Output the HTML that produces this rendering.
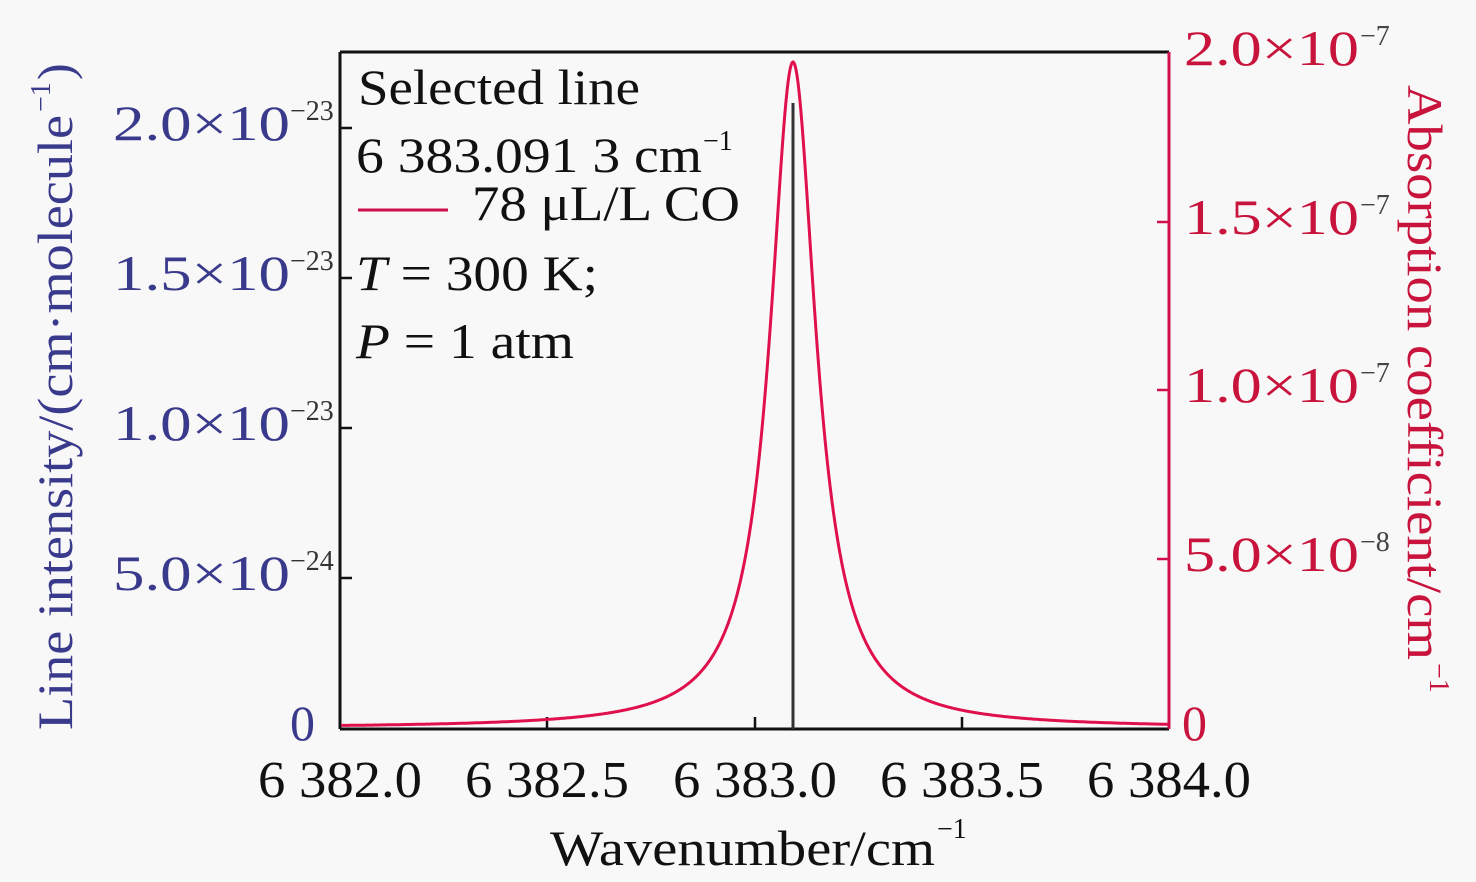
<!DOCTYPE html>
<html><head><meta charset="utf-8"><style>
html,body{margin:0;padding:0;background:#f8f8f8;}
svg{display:block;font-family:"Liberation Serif","Times New Roman",Times,serif;}
</style></head><body>
<svg id="s" width="1476" height="882" viewBox="0 0 1476 882">
<rect width="1476" height="882" fill="#f8f8f8"/>
<line x1="340" y1="52" x2="1169" y2="52" stroke="#111" stroke-width="3"/>
<line x1="340" y1="52" x2="340" y2="729" stroke="#111" stroke-width="3"/>
<line x1="340" y1="729" x2="1169" y2="729" stroke="#111" stroke-width="3"/>
<line x1="1169" y1="52" x2="1169" y2="729" stroke="#d0104c" stroke-width="3"/>
<g stroke="#111" stroke-width="2.5">
<line x1="547" y1="729" x2="547" y2="717"/><line x1="755" y1="729" x2="755" y2="717"/><line x1="962" y1="729" x2="962" y2="717"/>
<line x1="340" y1="128" x2="352" y2="128"/><line x1="340" y1="278" x2="352" y2="278"/><line x1="340" y1="428" x2="352" y2="428"/><line x1="340" y1="578" x2="352" y2="578"/>
</g>
<g stroke="#d0104c" stroke-width="2.5">
<line x1="1169" y1="222" x2="1157" y2="222"/><line x1="1169" y1="390" x2="1157" y2="390"/><line x1="1169" y1="559" x2="1157" y2="559"/>
</g>
<line x1="793" y1="103" x2="793" y2="729" stroke="#333" stroke-width="3"/>
<path id="curve" fill="none" stroke="#e0104c" stroke-width="3"/>
<g font-size="52" fill="#111" text-anchor="middle">
<text x="340" y="797" textLength="164" lengthAdjust="spacingAndGlyphs">6 382.0</text><text x="547" y="797" textLength="164" lengthAdjust="spacingAndGlyphs">6 382.5</text><text x="755" y="797" textLength="164" lengthAdjust="spacingAndGlyphs">6 383.0</text><text x="962" y="797" textLength="164" lengthAdjust="spacingAndGlyphs">6 383.5</text><text x="1169" y="797" textLength="164" lengthAdjust="spacingAndGlyphs">6 384.0</text>
</g>
<text x="550" y="865" font-size="50" fill="#111" textLength="385" lengthAdjust="spacingAndGlyphs">Wavenumber/cm</text><text x="937" y="838" font-size="28" fill="#111">−1</text>
<g font-size="50" fill="#3a3a8c">
<text x="113" y="140" textLength="177" lengthAdjust="spacingAndGlyphs">2.0×10</text><text x="290" y="120" font-size="28" fill="#333">−23</text>
<text x="113" y="290" textLength="177" lengthAdjust="spacingAndGlyphs">1.5×10</text><text x="290" y="270" font-size="28" fill="#333">−23</text>
<text x="113" y="440" textLength="177" lengthAdjust="spacingAndGlyphs">1.0×10</text><text x="290" y="420" font-size="28" fill="#333">−23</text>
<text x="113" y="590" textLength="177" lengthAdjust="spacingAndGlyphs">5.0×10</text><text x="290" y="570" font-size="28" fill="#333">−24</text>
<text x="290" y="740">0</text>
</g>
<g font-size="50" fill="#c8143c">
<text x="1184" y="65" textLength="175" lengthAdjust="spacingAndGlyphs">2.0×10</text><text x="1360" y="45" font-size="28" fill="#444">−7</text>
<text x="1184" y="234" textLength="175" lengthAdjust="spacingAndGlyphs">1.5×10</text><text x="1360" y="214" font-size="28" fill="#444">−7</text>
<text x="1184" y="402" textLength="175" lengthAdjust="spacingAndGlyphs">1.0×10</text><text x="1360" y="382" font-size="28" fill="#444">−7</text>
<text x="1184" y="571" textLength="175" lengthAdjust="spacingAndGlyphs">5.0×10</text><text x="1360" y="551" font-size="28" fill="#444">−8</text>
<text x="1182" y="740">0</text>
</g>
<g transform="translate(72,730) rotate(-90)"><text x="0" y="0" font-size="50" fill="#3a3a8c" textLength="615" lengthAdjust="spacingAndGlyphs">Line intensity/(cm·molecule</text><text x="618" y="-22" font-size="28" fill="#3a3a8c">−1</text><text x="650" y="0" font-size="50" fill="#3a3a8c">)</text></g>
<g transform="translate(1408,85) rotate(90)"><text x="0" y="0" font-size="50" fill="#c8143c" textLength="575" lengthAdjust="spacingAndGlyphs">Absorption coefficient/cm</text><text x="578" y="-22" font-size="28" fill="#c8143c">−1</text></g>
<g font-size="50" fill="#111">
<text x="358" y="104" textLength="282" lengthAdjust="spacingAndGlyphs">Selected line</text>
<text x="356" y="172" textLength="346" lengthAdjust="spacingAndGlyphs">6 383.091 3 cm</text><text x="703" y="150" font-size="28">−1</text>
<line x1="358" y1="210" x2="448" y2="210" stroke="#d0104c" stroke-width="3"/>
<text x="472" y="220" textLength="268" lengthAdjust="spacingAndGlyphs">78 μL/L CO</text>
<text x="356" y="290" textLength="242" lengthAdjust="spacingAndGlyphs"><tspan font-style="italic">T</tspan> = 300 K;</text>
<text x="356" y="358" textLength="218" lengthAdjust="spacingAndGlyphs"><tspan font-style="italic">P</tspan> = 1 atm</text>
</g>
</svg>
<script>
var d="",g=28,x0=793,A=728-62;
for(var x=341;x<=1168;x+=1){var u=(x-x0)/g;var y=728-A/(1+u*u);d+=(x==341?"M":"L")+x+" "+y.toFixed(1);}
document.getElementById("curve").setAttribute("d",d);
</script>
</body></html>
